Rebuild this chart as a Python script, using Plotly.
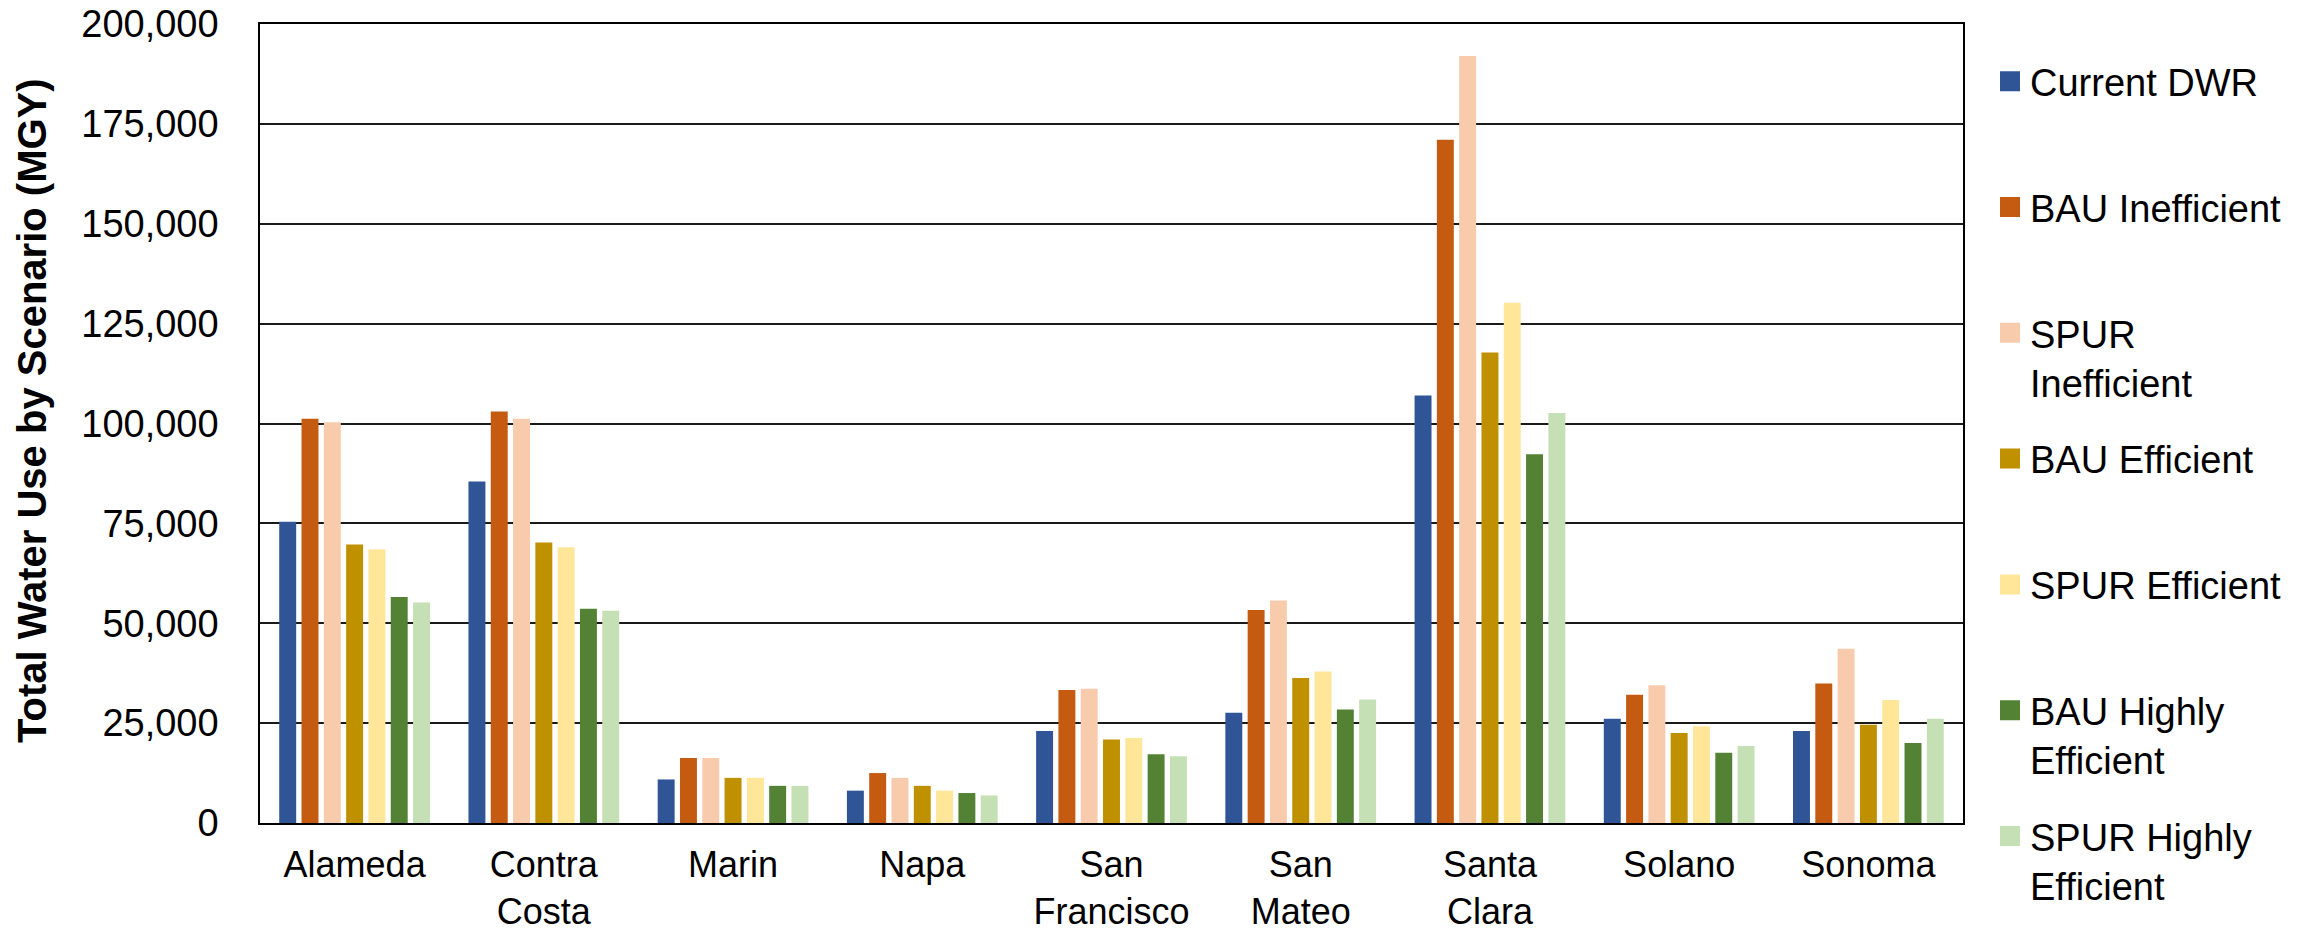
import plotly.graph_objects as go

counties = ["Alameda", "Contra<br>Costa", "Marin", "Napa", "San<br>Francisco",
            "San<br>Mateo", "Santa<br>Clara", "Solano", "Sonoma"]

current_dwr       = [75400, 85500, 10900, 8100, 23000, 27600, 107000, 26100, 23000]
bau_inefficient   = [101200, 103000, 16300, 12500, 33300, 53300, 171000, 32100, 34900]
spur_inefficient  = [100300, 101200, 16300, 11300, 33600, 55700, 192000, 34500, 43600]
bau_efficient     = [69700, 70200, 11300, 9300, 20900, 36300, 117800, 22500, 24600]
spur_efficient    = [68500, 69000, 11300, 8100, 21300, 37900, 130200, 24200, 30800]
bau_highly_eff    = [56600, 53600, 9300, 7500, 17200, 28400, 92300, 17600, 20000]
spur_highly_eff   = [55200, 53100, 9300, 6900, 16700, 30900, 102600, 19300, 26100]

series_names = ["Current DWR", "BAU Inefficient", "SPUR<br>Inefficient", "BAU Efficient",
                "SPUR Efficient", "BAU Highly<br>Efficient", "SPUR Highly<br>Efficient"]
series_values = [current_dwr, bau_inefficient, spur_inefficient, bau_efficient,
                 spur_efficient, bau_highly_eff, spur_highly_eff]
colors = ["#2F5597", "#C55A11", "#F8CBAD", "#BF9000", "#FFE699", "#548235", "#C5E0B4"]

y_ticks = [0, 25000, 50000, 75000, 100000, 125000, 150000, 175000, 200000]
y_title = "Total Water Use by Scenario (MGY)"

FONT = "Liberation Sans, Arial, sans-serif"

fig = go.Figure()
for name, vals, col in zip(series_names, series_values, colors):
    fig.add_trace(go.Bar(x=counties, y=vals, name=name.replace("<br>", " "),
                         marker=dict(color=col, line=dict(width=0)),
                         showlegend=False))

for i, (name, col) in enumerate(zip(series_names, colors)):
    label = name if "<br>" in name else name + "<br>\u00a0"
    fig.add_trace(go.Scatter(x=[None], y=[None], mode="markers", name=label,
                             legendgroup="g%d" % i,
                             marker=dict(symbol="square", size=16, color=col,
                                         line=dict(color=col, width=4))))

fig.update_layout(
    width=2318, height=937,
    margin=dict(l=260, r=355, t=24, b=114, autoexpand=False),
    paper_bgcolor="white", plot_bgcolor="white",
    barmode="group", bargap=0.175, bargroupgap=0.24,
    font=dict(family=FONT, size=38, color="#000000"),
    legend=dict(xref="container", yref="container", x=1990 / 2318, xanchor="left",
                y=1 - 50 / 937, yanchor="top", valign="top", maxheight=1200,
                tracegroupgap=24, font=dict(size=38, family=FONT),
                bgcolor="rgba(0,0,0,0)", borderwidth=0),
    annotations=[dict(text="<b>%s</b>" % y_title, textangle=-90,
                      xref="paper", yref="paper",
                      x=(32 - 260) / 1703, y=(823 - 411) / 799,
                      xanchor="center", yanchor="middle", showarrow=False,
                      font=dict(size=40, family=FONT, color="#000000"))],
)

fig.update_xaxes(showline=True, mirror=True, linecolor="black", linewidth=1.5,
                 ticks="", showgrid=False, tickfont=dict(size=36, family=FONT),
                 ticklabelstandoff=9, automargin=False)
fig.update_yaxes(range=[0, 200000], tickvals=y_ticks, tickformat=",",
                 showline=True, mirror=True, linecolor="black", linewidth=1.5,
                 showgrid=True, gridcolor="#1a1a1a", gridwidth=1.5, zeroline=False,
                 ticks="", tickfont=dict(size=38, family=FONT),
                 ticklabelstandoff=32, automargin=False)

fig.write_html("out.html")
